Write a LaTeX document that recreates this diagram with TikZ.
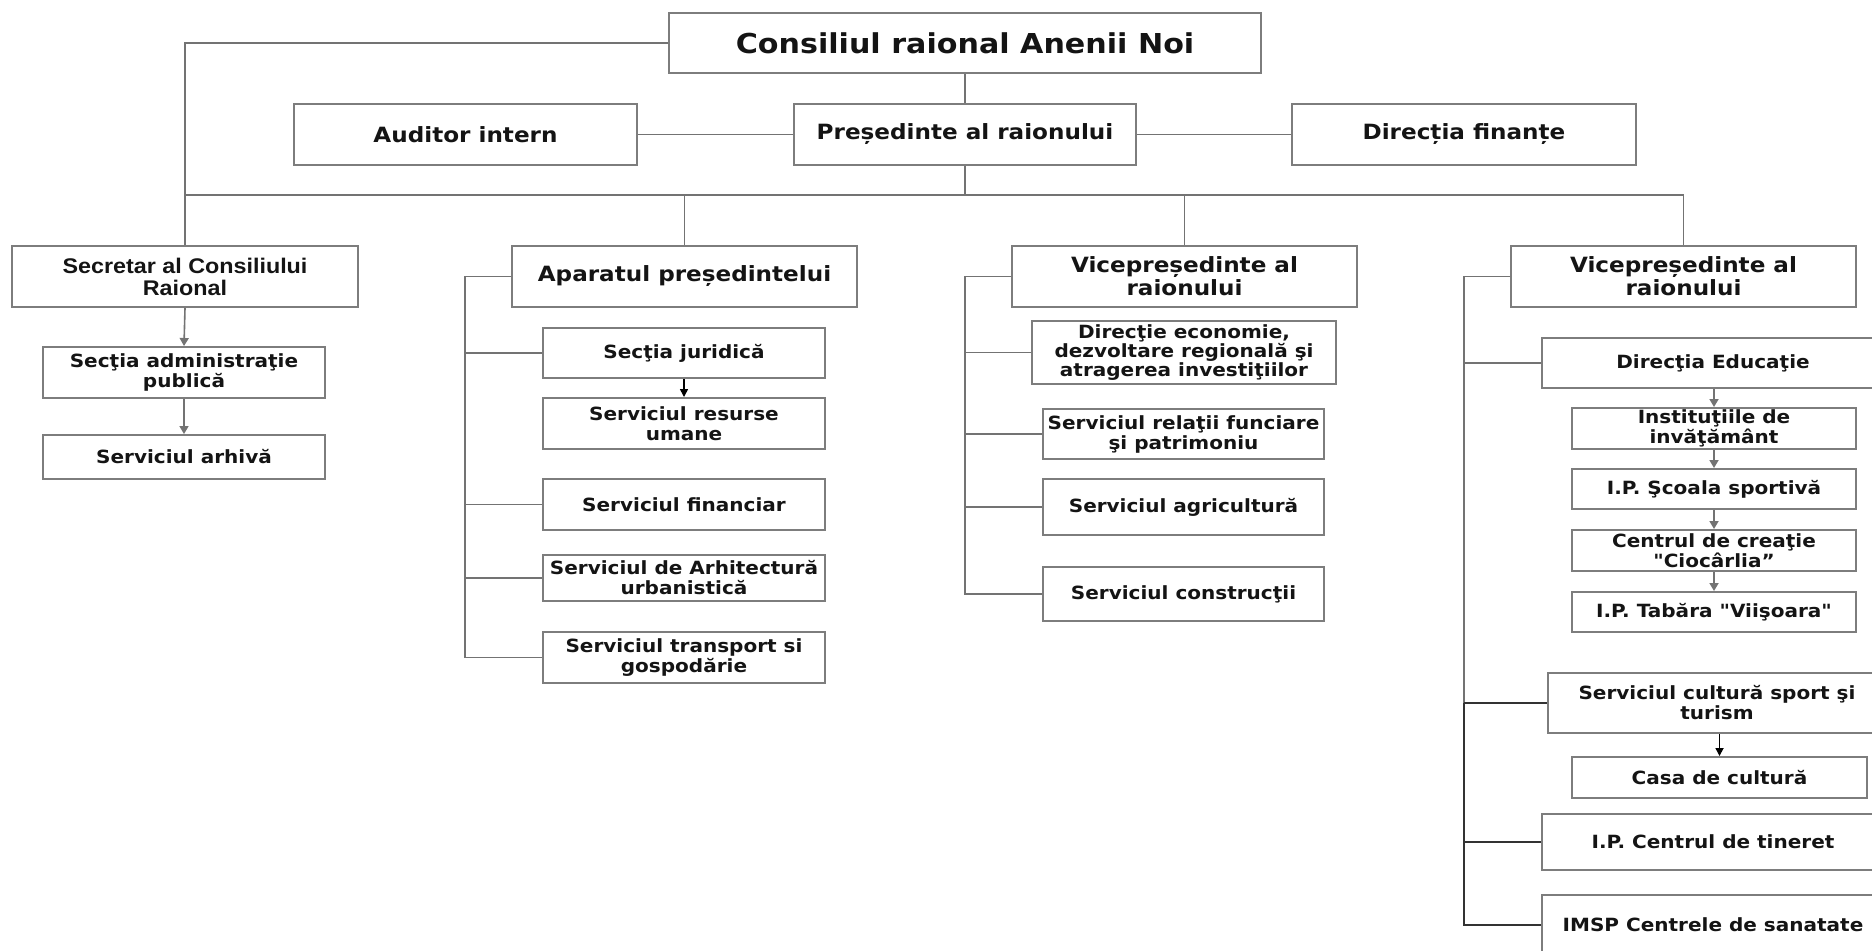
\documentclass[tikz,border=0pt]{standalone}
\usepackage{fontspec}
\usetikzlibrary{arrows.meta}
\newfontfamily\vfont{DejaVu Sans}[FakeStretch=1.1]
\newfontfamily\afont{Liberation Sans}[FakeStretch=1.1]
\definecolor{linec}{RGB}{115,115,115}
\definecolor{boxc}{RGB}{125,125,125}
\definecolor{txtc}{RGB}{20,20,20}
\tikzset{
  boxbase/.style={draw=boxc, line width=1pt, fill=white, inner sep=0pt, align=center, text=txtc},
  bigbox/.style={boxbase, font=\vfont\bfseries\fontsize{13.7}{16}\selectfont},
  headbox/.style={boxbase, font=\vfont\bfseries\fontsize{10.5}{11.5}\selectfont},
  subbox/.style={boxbase, font=\vfont\bfseries\fontsize{9.1}{10}\selectfont},
  ecobox/.style={boxbase, font=\vfont\bfseries\fontsize{9.1}{9.5}\selectfont},
  secbox/.style={boxbase, font=\afont\bfseries\fontsize{10.6}{11}\selectfont},
  conn/.style={draw=linec, line width=0.8pt},
  dconn/.style={draw=black!80, line width=0.8pt},
  garr/.style={draw=linec, line width=0.8pt, -{Triangle[length=4pt,width=4.5pt]}},
  barr/.style={draw=black, line width=0.8pt, -{Triangle[length=4pt,width=4pt]}},
}
\newcommand\mkbox[7]{%
  \pgfmathsetmacro\mbw{(#5-#3)*0.5}%
  \pgfmathsetmacro\mbh{(#6-#4)*0.5}%
  \node[#1, minimum width=\mbw pt, minimum height=\mbh pt] (#2) at ({(#3+#5)/2},{(#4+#6)/2}) {#7};%
}
\begin{document}
\begin{tikzpicture}[x=0.5pt,y=-0.5pt]
\useasboundingbox (0,0) rectangle (1872,950);
\fill[white] (0,0) rectangle (1872,950);
\clip (0,0) rectangle (1872,950);

% top level
\mkbox{bigbox}{cons}{669}{13}{1261}{73}{Consiliul raional Anenii Noi}
\mkbox{headbox}{aud}{294}{104}{637}{165}{Auditor intern}
\mkbox{headbox}{pres}{794}{104}{1136}{165}{Președinte al raionului}
\mkbox{headbox}{dfin}{1292}{104}{1636}{165}{Direcția finanțe}

% secretar branch
\mkbox{secbox}{sec}{12}{246}{358}{307}{Secretar al Consiliului\\Raional}
\mkbox{subbox}{sadm}{43}{347}{325}{398}{Secţia administraţie\\publică}
\mkbox{subbox}{arh}{43}{435}{325}{479}{Serviciul arhivă}

% aparatul branch
\mkbox{headbox}{apar}{512}{246}{857}{307}{Aparatul președintelui}
\mkbox{subbox}{jur}{543}{328}{825}{378}{Secţia juridică}
\mkbox{subbox}{rum}{543}{398}{825}{449}{Serviciul resurse\\umane}
\mkbox{subbox}{fin}{543}{479}{825}{530}{Serviciul financiar}
\mkbox{subbox}{arch}{543}{555}{825}{601}{Serviciul de Arhitectură\\urbanistică}
\mkbox{subbox}{trans}{543}{632}{825}{683}{Serviciul transport si\\gospodărie}

% vicepresedinte 1
\mkbox{headbox}{vone}{1012}{246}{1357}{307}{Vicepreședinte al\\raionului}
\mkbox{ecobox}{eco}{1032}{321}{1336}{384}{Direcţie economie,\\dezvoltare regională şi\\atragerea investiţiilor}
\mkbox{subbox}{rel}{1043}{409}{1324}{459}{Serviciul relaţii funciare\\şi patrimoniu}
\mkbox{subbox}{agr}{1043}{479}{1324}{535}{Serviciul agricultură}
\mkbox{subbox}{cst}{1043}{567}{1324}{621}{Serviciul construcţii}

% vicepresedinte 2
\mkbox{headbox}{vtwo}{1511}{246}{1856}{307}{Vicepreședinte al\\raionului}
\mkbox{subbox}{edu}{1542}{338}{1884}{388}{Direcţia Educaţie}
\mkbox{subbox}{inst}{1572}{408}{1856}{449}{Instituţiile de\\invăţământ}
\mkbox{subbox}{scoala}{1572}{469}{1856}{509}{I.P. Şcoala sportivă}
\mkbox{subbox}{crea}{1572}{530}{1856}{571}{Centrul de creaţie\\"Ciocârlia”}
\mkbox{subbox}{tab}{1572}{592}{1856}{632}{I.P. Tabăra "Viişoara"}
\mkbox{subbox}{cult}{1548}{673}{1886}{733}{Serviciul cultură sport şi\\turism}
\mkbox{subbox}{casa}{1572}{757}{1867}{798}{Casa de cultură}
\mkbox{subbox}{tin}{1542}{814}{1884}{870}{I.P. Centrul de tineret}
\mkbox{subbox}{imsp}{1542}{895}{1884}{955}{IMSP Centrele de sanatate}

% connectors: top
\coordinate (busy) at (0,195);
\draw[conn] (cons.west) -| (sec.north);
\draw[conn] (cons.south) -- (pres.north);
\draw[conn] (aud.east) -- (pres.west);
\draw[conn] (pres.east) -- (dfin.west);
\draw[conn] (pres.south) -- (pres.south |- busy);
\draw[conn] (sec.north |- busy) -- (vtwo.north |- busy);
\draw[conn] (apar.north |- busy) -- (apar.north);
\draw[conn] (vone.north |- busy) -- (vone.north);
\draw[conn] (vtwo.north |- busy) -- (vtwo.north);

% secretar chain
\draw[garr] (sec.south) -- (sadm.north);
\draw[garr] (sadm.south) -- (arh.north);

% aparatul bracket
\coordinate (bra) at (465,0);
\draw[conn] (apar.west) -| (bra |- trans.west) -- (trans.west);
\foreach \n in {jur,fin,arch}{\draw[conn] (bra |- \n.west) -- (\n.west);}
\draw[barr] (rum.north |- jur.south) -- (rum.north);

% vice 1 bracket
\coordinate (brb) at (965,0);
\draw[conn] (vone.west) -| (brb |- cst.west) -- (cst.west);
\foreach \n in {eco,rel,agr}{\draw[conn] (brb |- \n.west) -- (\n.west);}

% vice 2 bracket
\coordinate (brc) at (1464,0);
\draw[conn] (vtwo.west) -| (brc |- cult.west);
\draw[dconn] (brc |- cult.west) -- (brc |- imsp.west) -- (imsp.west);
\draw[conn] (brc |- edu.west) -- (edu.west);
\draw[dconn] (brc |- cult.west) -- (cult.west);
\draw[dconn] (brc |- tin.west) -- (tin.west);
\draw[garr] (inst.north |- edu.south) -- (inst.north);
\draw[garr] (scoala.north |- inst.south) -- (scoala.north);
\draw[garr] (crea.north |- scoala.south) -- (crea.north);
\draw[garr] (tab.north |- crea.south) -- (tab.north);
\draw[barr] (casa.north |- cult.south) -- (casa.north);
\end{tikzpicture}
\end{document}
